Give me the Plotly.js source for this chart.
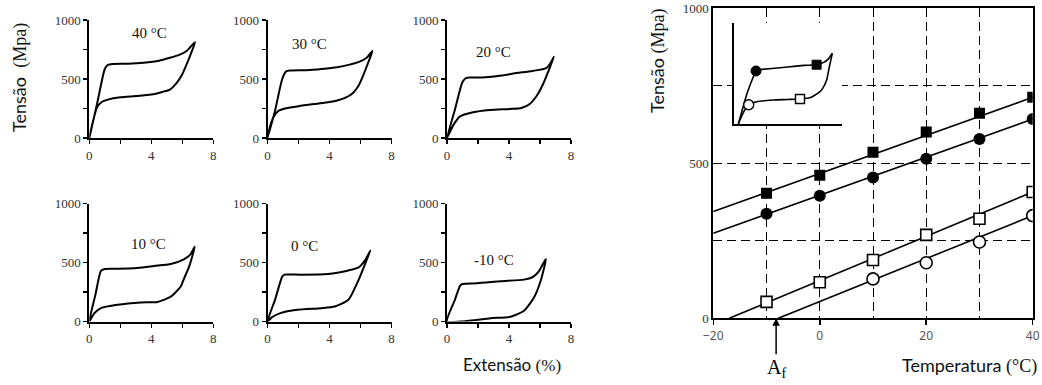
<!DOCTYPE html>
<html>
<head>
<meta charset="utf-8">
<script src="https://cdn.plot.ly/plotly-3.0.1.min.js"></script>
<style>html,body{margin:0;padding:0;background:#fff}#chart{width:1042px;height:385px}</style>
</head>
<body>
<div id="chart"></div>
<script>
// ---------- Stress-strain loops (strain %, stress MPa) ----------
const loopTemps = ['40 °C', '30 °C', '20 °C', '10 °C', '0 °C', '-10 °C'];
const labelStrain = [3.9, 2.7, 3.0, 3.8, 2.4, 3.05];
const labelStress = [890, 800, 725, 655, 637, 523];

const strain40 = [0,0.5,1.0,1.2,1.5,2.5,3.5,4.5,5.2,5.8,6.3,6.82, 6.6,6.3,6.0,5.6,5.2,4.7,4.0,3.0,2.0,1.2,0.8,0.5,0.2,0];
const stress40 = [0,290,585,620,628,630,638,655,680,705,740,813, 730,630,540,460,410,390,368,355,345,325,305,260,120,0];

const strain30 = [0,0.5,0.95,1.2,1.5,2.5,3.5,4.5,5.3,5.9,6.4,6.77, 6.5,6.2,5.9,5.5,5.0,4.5,4.0,3.0,2.0,1.2,0.7,0.4,0.15,0];
const stress30 = [0,240,500,565,572,575,585,600,622,645,680,738, 640,540,450,380,340,318,305,288,270,252,230,180,90,0];

const strain20 = [0,0.5,1.0,1.25,1.6,2.5,3.5,4.5,5.5,6.4,6.7,6.9, 6.64,6.2,5.8,5.34,4.8,4.05,2.76,1.68,0.82,0.39,0];
const stress20 = [0,235,475,510,512,515,530,550,568,592,640,689, 599,458,360,288,254,246,237,218,181,105,0];

const strain10 = [0,0.4,0.75,1.0,1.5,2.9,4.18,5.26,6.1,6.5,6.8, 6.44,6.1,5.9,5.26,4.4,3.33,1.82,0.75,0.32,0];
const stress10 = [0,230,430,445,447,451,470,487,527,565,634, 465,360,296,211,166,161,141,113,70,0];

const strain0 = [0,0.5,0.95,1.1,1.5,2.15,3.9,5.22,5.88,6.3,6.64, 6.32,5.88,5.22,4.34,3.46,1.93,0.83,0.29,0];
const stress0 = [0,190,380,397,398,397,402,433,459,520,603, 496,354,184,127,113,99,71,37,0];

const strainM10 = [0,0.5,0.85,1.0,1.95,3.46,4.97,5.51,5.9,6.38, 6.05,5.62,4.97,4.1,2.81,1.73,0.86,0];
const stressM10 = [0,180,305,318,324,341,355,375,420,531, 347,205,91,40,28,11,0,0];

// ---------- Critical stresses vs temperature ----------
const temperature = [-10, 0, 10, 20, 30, 40];
const sigmaSquareFilled = [403, 461, 535, 600, 661, 712];
const sigmaCircleFilled = [337, 395, 454, 514, 578, 642];
const sigmaSquareOpen = [53, 116, 188, 269, 321, 407];
const temperatureCircleOpen = [10, 20, 30, 40];
const sigmaCircleOpen = [127, 179, 246, 331];

// fitted lines (end points)
const fitSqFilledT = [-20, 40], fitSqFilledS = [344, 712];
const fitCiFilledT = [-20, 40], fitCiFilledS = [274, 642];
const fitSqOpenT = [-17, 40], fitSqOpenS = [0, 407];
const fitCiOpenT = [-7.8, 40], fitCiOpenS = [0, 331];
const afTemperature = -8.2;

// ---------- Inset schematic loop (arbitrary units) ----------
const insetLoadX = [4,12,18,20.4,25,35,50,65,76.5,83,87.5,91];
const insetLoadY = [0,30,47,52.5,54,55,56.5,58,58.7,61,64.5,70];
const insetUnloadX = [91,88,85.8,82,79.6,74,70.4,61.1,50,36.4,21,13.6,9,5.6,4];
const insetUnloadY = [70,55,43.6,35,32,28,26,24.8,24.3,23.8,22,19.1,12,4,0];
const insetFilledX = [20.4, 76.5], insetFilledY = [52.5, 58.7];
const insetOpenX = [61.1, 13.6], insetOpenY = [24.8, 19.1];

// ---------- build ----------
const W = 1042, H = 385;
const px = (a, b) => [a / W, b / W];
const py = (top, bottom) => [1 - bottom / H, 1 - top / H];

const SERIF = 'Liberation Serif, Times New Roman, serif';
const SANS = 'Lato, Noto Sans, sans-serif';

const loops = [
  [strain40, stress40], [strain30, stress30], [strain20, stress20],
  [strain10, stress10], [strain0, stress0], [strainM10, stressM10]
];
const colX = [[89.3, 213.3], [267.5, 391.5], [447, 571]];
const rowY = [[20, 138], [203.5, 321.5]];

const traces = [];
const layout = {
  width: W, height: H,
  margin: {l: 0, r: 0, t: 0, b: 0},
  paper_bgcolor: '#fff', plot_bgcolor: '#fff',
  showlegend: false,
  hovermode: false,
  font: {family: SERIF, size: 13, color: '#222'},
  annotations: [],
  shapes: []
};

loops.forEach((lp, i) => {
  const n = i + 1;
  const xa = 'x' + (n === 1 ? '' : n), ya = 'y' + (n === 1 ? '' : n);
  traces.push({
    x: lp[0], y: lp[1], xaxis: xa, yaxis: ya, type: 'scatter', mode: 'lines',
    line: {color: '#000', width: 2, shape: 'spline', smoothing: 0.6}
  });
  const c = colX[i % 3], r = rowY[Math.floor(i / 3)];
  layout['xaxis' + (n === 1 ? '' : n)] = {
    domain: px(c[0], c[1]), anchor: ya, range: [0, 8],
    showline: true, linecolor: '#000', linewidth: 2,
    tickmode: 'array', tickvals: [0, 2, 4, 6, 8], ticktext: ['0', ' ', '4', ' ', '8'],
    ticks: 'outside', ticklen: 4, tickwidth: 1.5, tickcolor: '#000',
    showgrid: false, zeroline: false, fixedrange: true,
    tickfont: {family: SERIF, size: 13, color: '#333'}
  };
  layout['yaxis' + (n === 1 ? '' : n)] = {
    domain: py(r[0], r[1]), anchor: xa, range: [0, 1000],
    showline: true, linecolor: '#000', linewidth: 2,
    tickmode: 'array', tickvals: [0, 250, 500, 750, 1000], ticktext: ['0', ' ', '500', ' ', '1000'],
    ticks: 'outside', ticklen: 4, tickwidth: 1.5, tickcolor: '#000',
    showgrid: false, zeroline: false, fixedrange: true,
    tickfont: {family: SERIF, size: 13, color: '#333'}
  };
  layout.annotations.push({
    xref: xa, yref: ya, x: labelStrain[i], y: labelStress[i],
    text: loopTemps[i], showarrow: false, xanchor: 'center', yanchor: 'middle',
    font: {family: SERIF, size: 15, color: '#111'}
  });
});

// main right plot: x7 / y7
const lineStyle = {color: '#000', width: 1.6};
[[fitSqFilledT, fitSqFilledS], [fitCiFilledT, fitCiFilledS],
 [fitSqOpenT, fitSqOpenS], [fitCiOpenT, fitCiOpenS]].forEach(f => {
  traces.push({x: f[0], y: f[1], xaxis: 'x7', yaxis: 'y7', type: 'scatter', mode: 'lines', line: lineStyle});
});
traces.push({x: temperature, y: sigmaSquareFilled, xaxis: 'x7', yaxis: 'y7', mode: 'markers',
  marker: {symbol: 'square', size: 11, color: '#000', opacity: 1}});
traces.push({x: temperature, y: sigmaCircleFilled, xaxis: 'x7', yaxis: 'y7', mode: 'markers',
  marker: {symbol: 'circle', size: 12, color: '#000', opacity: 1}});
traces.push({x: temperature, y: sigmaSquareOpen, xaxis: 'x7', yaxis: 'y7', mode: 'markers',
  marker: {symbol: 'square', size: 11, color: '#fff', opacity: 1, line: {color: '#000', width: 1.6}}});
traces.push({x: temperatureCircleOpen, y: sigmaCircleOpen, xaxis: 'x7', yaxis: 'y7', mode: 'markers',
  marker: {symbol: 'circle', size: 12, color: '#fff', opacity: 1, line: {color: '#000', width: 1.6}}});

const GRIDDASH = '9px,5px';
layout.xaxis7 = {
  domain: px(713.3, 1032.7), anchor: 'y7', range: [-20, 40],
  showline: true, mirror: true, linecolor: '#000', linewidth: 2,
  tick0: -20, dtick: 20, ticks: 'outside', ticklen: 5, tickwidth: 1.5, tickcolor: '#000',
  showgrid: true, gridcolor: '#000', gridwidth: 1, griddash: GRIDDASH,
  minor: {dtick: 10, tick0: -20, showgrid: true, gridcolor: '#000', gridwidth: 1, griddash: GRIDDASH, ticks: ''},
  zeroline: false, fixedrange: true,
  tickfont: {family: 'Noto Sans, sans-serif', size: 12, color: '#555'}
};
layout.yaxis7 = {
  domain: py(8, 318.3), anchor: 'x7', range: [0, 1000],
  showline: true, mirror: true, linecolor: '#000', linewidth: 2,
  tick0: 0, dtick: 500, ticks: '',
  showgrid: true, gridcolor: '#000', gridwidth: 1, griddash: GRIDDASH,
  minor: {dtick: 250, tick0: 0, showgrid: true, gridcolor: '#000', gridwidth: 1, griddash: GRIDDASH, ticks: ''},
  zeroline: false, fixedrange: true,
  tickfont: {family: SERIF, size: 13, color: '#333'}
};

// inset: x8 / y8
traces.push({x: insetLoadX, y: insetLoadY, xaxis: 'x8', yaxis: 'y8', mode: 'lines',
  line: {color: '#000', width: 1.6, shape: 'spline', smoothing: 0.5}});
traces.push({x: insetUnloadX, y: insetUnloadY, xaxis: 'x8', yaxis: 'y8', mode: 'lines',
  line: {color: '#000', width: 1.6, shape: 'spline', smoothing: 0.5}});
traces.push({x: insetFilledX, y: insetFilledY, xaxis: 'x8', yaxis: 'y8', mode: 'markers',
  marker: {symbol: ['circle', 'square'], size: [10, 9], color: '#000', opacity: 1, line: {color: '#000', width: 1}}});
traces.push({x: insetOpenX, y: insetOpenY, xaxis: 'x8', yaxis: 'y8', mode: 'markers',
  marker: {symbol: ['square', 'circle'], size: [9, 10], color: '#fff', opacity: 1, line: {color: '#000', width: 1.4}}});
layout.xaxis8 = {
  domain: px(734, 842), anchor: 'y8', range: [0, 100],
  showline: true, linecolor: '#000', linewidth: 1.8, showticklabels: false, ticks: '',
  showgrid: false, zeroline: false, fixedrange: true
};
layout.yaxis8 = {
  domain: py(23, 124), anchor: 'x8', range: [0, 100],
  showline: true, linecolor: '#000', linewidth: 1.8, showticklabels: false, ticks: '',
  showgrid: false, zeroline: false, fixedrange: true
};

// Af arrow
layout.annotations.push({
  xref: 'x7', yref: 'y7', x: afTemperature, y: 0, ax: 0, ay: 50, axref: 'pixel', ayref: 'pixel',
  text: 'A<sub>f</sub>', showarrow: true, arrowhead: 2, arrowsize: 1, arrowwidth: 1.5,
  arrowcolor: '#000', standoff: 0, font: {family: SERIF, size: 20, color: '#000'}
});

// titles
const serifSpan = t => '<span style="font-family:Liberation Serif, Times New Roman, serif">' + t + '</span>';
const paperTitle = (x, y, text, size, angle) => ({
  xref: 'paper', yref: 'paper', x: x / W, y: 1 - y / H, xanchor: 'center', yanchor: 'middle',
  textangle: angle, showarrow: false, text: text, font: {family: SANS, size: size, color: '#111'}
});
layout.annotations.push(
  paperTitle(19, 78, 'Tensão  ' + serifSpan('(Mpa)'), 18, -90),
  paperTitle(658, 61, 'Tensão ' + serifSpan('(Mpa)'), 18, -90),
  paperTitle(512, 364, 'Extensão ' + serifSpan('(%)'), 17, 0),
  paperTitle(969, 365, 'Temperatura ' + serifSpan('(°C)'), 18, 0)
);

Plotly.newPlot('chart', traces, layout, {staticPlot: true, displayModeBar: false});
</script>
</body>
</html>
